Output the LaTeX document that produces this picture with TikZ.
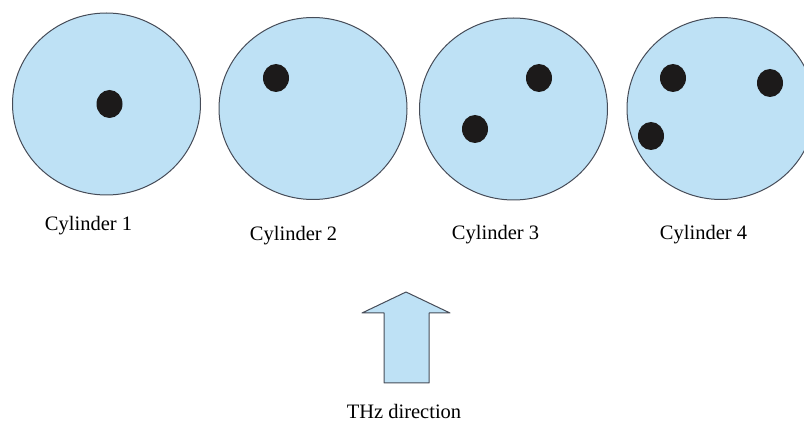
\documentclass[tikz,border=0pt]{standalone}
\usepackage{fontspec}
\setmainfont{Liberation Serif}
\usepackage{tikz}
\usetikzlibrary{shapes.geometric}

\definecolor{cylblue}{RGB}{190,225,245}
\definecolor{cylline}{RGB}{70,76,88}
\definecolor{holecol}{RGB}{28,26,26}

\begin{document}
\begin{tikzpicture}[x=1pt,y=-1pt,
		cyl/.style={ellipse, draw=cylline, fill=cylblue, line width=1pt, minimum width=188pt, minimum height=182pt, inner sep=0pt},
		hole/.style={ellipse, fill=holecol, minimum width=26pt, minimum height=28pt, inner sep=0pt},
		lbl/.style={anchor=base, inner sep=0pt, font=\fontsize{20.5}{24}\selectfont}]
			\useasboundingbox (0,0) rectangle (804,427);
			\begin{scope}
			\clip (0,0) rectangle (804,427);
			\node[cyl] (cyl1) at (106.5,104) {};
			\node[cyl] (cyl2) at (313,108.5) {};
			\node[cyl] (cyl3) at (513.5,109) {};
			\node[cyl] (cyl4) at (721,108.5) {};
			\end{scope}
			% holes
			\node[hole] (h11) at (109.5,104) {};
			\node[hole] (h21) at (276,78) {};
			\node[hole] (h31) at (539,78) {};
			\node[hole] (h32) at (475,129) {};
			\node[hole] (h41) at (673,78) {};
			\node[hole] (h42) at (770,83) {};
			\node[hole] (h43) at (651,136) {};
			% labels
			\node[lbl] (l1) at (88.5,231) {Cylinder 1};
			\node[lbl] (l2) at (293.5,241) {Cylinder 2};
			\node[lbl] (l3) at (495.5,239.5) {Cylinder 3};
			\node[lbl] (l4) at (703.5,239.5) {Cylinder 4};
			% THz arrow
			\draw[cylline, fill=cylblue, line width=1pt, line join=round] (384,383) -- (384,313) -- (362,313) -- (406,292) -- (450,313) -- (429,313) -- (429,383) -- cycle;
			\node[lbl] (thz) at (404,419) {THz direction};
\end{tikzpicture}
\end{document}
